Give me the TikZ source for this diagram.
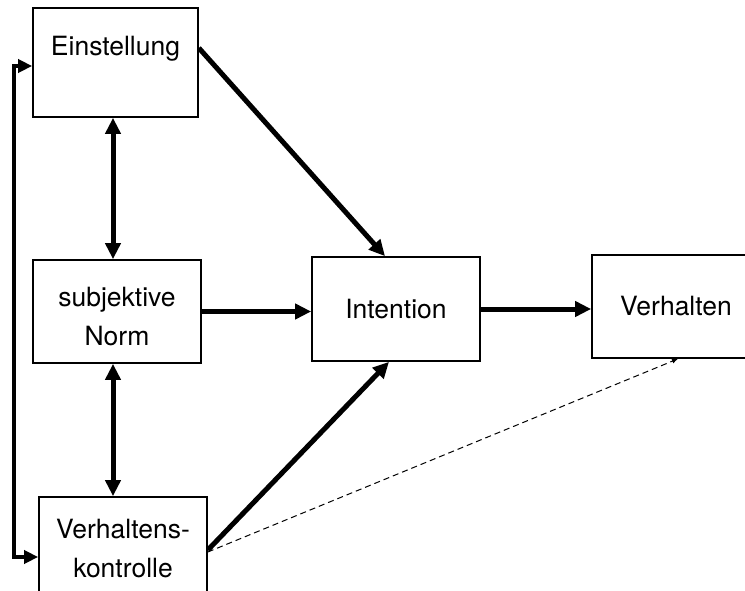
\documentclass[tikz,border=0pt]{standalone}
\usepackage{fontspec}
\setmainfont{TeX Gyre Heros}
\usetikzlibrary{arrows.meta,calc}
\tikzset{
  flowarrow/.style={-{Triangle[length=16pt,width=15pt]}, line width=5pt},
  botharrow/.style={{Triangle[length=16pt,width=15pt]}-{Triangle[length=16pt,width=15pt]}, line width=5pt},
  backarrow/.style={{Triangle[length=14pt,width=13pt]}-{Triangle[length=14pt,width=13pt]}, line width=4.2pt},
  dasharrow/.style={-{Latex[length=6pt,width=5pt]}, line width=1pt, dash pattern=on 6pt off 4pt},
  boxnode/.style={draw, line width=1.7pt, minimum width=168pt, minimum height=104pt, align=center, font=\fontsize{26.5}{39}\selectfont}
}

\begin{document}
\begin{tikzpicture}[x=1pt, y=-1pt]
      \useasboundingbox (0,0) rectangle (745,591);
      \clip (0,0) rectangle (745,591);
      \node[boxnode, minimum width=165pt, minimum height=109pt, text height=19pt, text depth=33pt] (einstellung) at (115.5,62.5) {Einstellung};
      \node[boxnode, minimum height=103pt, text height=68pt] (norm) at (117,311.5) {subjektive\\Norm};
      \node[boxnode] (intention) at (396,309) {Intention};
      \node[boxnode, minimum height=103pt] (verhalten) at (676,306.5) {Verhalten};
      \node[boxnode] (kontrolle) at (123,549) {Verhaltens-\\kontrolle};
      \draw[botharrow] ([xshift=-2.5pt]einstellung.south) -- ([xshift=-2.5pt]einstellung.south |- norm.north);
      \draw[botharrow] ([xshift=-4pt]norm.south) -- ([xshift=-4pt]norm.south |- kontrolle.north);
      \draw[backarrow] ([yshift=-3.5pt]einstellung.west) -- ++(-18,0) |- ([yshift=-8pt]kontrolle.west);
      \draw[flowarrow] ([yshift=14.5pt]einstellung.east) -- ([xshift=-11pt]intention.north);
      \draw[flowarrow] (norm.east) -- (norm.east -| intention.west);
      \draw[flowarrow] ([yshift=-1pt]kontrolle.east) -- ([xshift=-7pt]intention.south);
      \draw[flowarrow] (intention.east) -- (intention.east -| verhalten.west);
      \draw[dasharrow] ([yshift=-3pt]kontrolle.east) -- ([xshift=2pt]verhalten.south);
    \end{tikzpicture}
\end{document}
